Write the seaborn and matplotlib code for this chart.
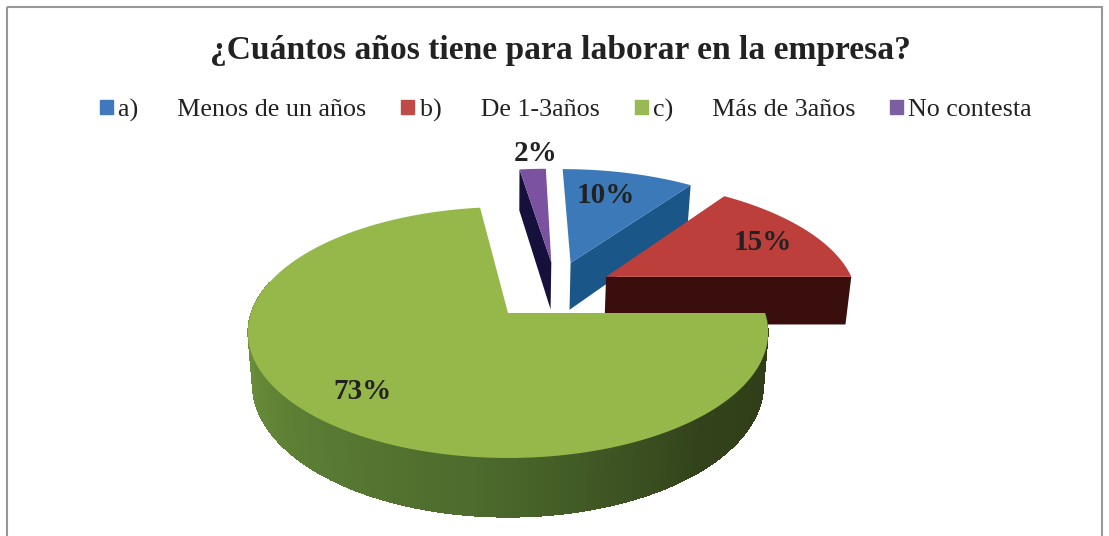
import numpy as np
import matplotlib
matplotlib.use("Agg")
import matplotlib.pyplot as plt
from matplotlib.patches import Patch, Rectangle
import seaborn as sns

sns.set_theme(style="white")
plt.rcParams["font.family"] = ["Liberation Serif", "DejaVu Serif"]

# Chart data
title = "¿Cuántos años tiene para laborar en la empresa?"
categories = ["a)      Menos de un años", "b)      De 1-3años", "c)      Más de 3años", "No contesta"]
percentages = [10, 15, 73, 2]

# Slice styling, same order as the categories
top_colors = ["#3c79b9", "#bd3f3c", "#96b84a", "#7a52a0"]
side_colors = ["#1b5688", "#3a0e0c", "#55722f", "#15103c"]
legend_colors = ["#4178bd", "#be4b48", "#98b954", "#7d5fa0"]
explode_u = [0.26, 0.40, 0.0, 0.18]
explode_v = [0.436, 0.31, 0.0, 0.44]
label_r = [0.72, 0.76, 0.78, 1.19]
label_turn = [3, -2, 0, -1.5]

# Perspective of the tilted disc, in pixels
CX, CY = 508, 313
RX, RY = 257, 122.5
PERSP = 0.155
DEPTH = 50
BOTTOM_SHRINK = 0.983


def project(u, v):
    """Disc coordinates to picture coordinates"""
    scale = 1 / (1 + PERSP * np.asarray(v, dtype=float))
    return CX + RX * np.asarray(u) * scale, CY - RY * np.asarray(v) * scale


def extrude(ax, u, v, color, **kwargs):
    """Wall between a top edge and the same edge on the lower plane"""
    x, y = project(u, v)
    bottom_x = CX + (x - CX) * BOTTOM_SHRINK
    bottom_y = y + DEPTH / (1 + PERSP * np.asarray(v, dtype=float))
    ax.fill(np.r_[x, bottom_x[::-1]], np.r_[y, bottom_y[::-1]], color=color, lw=0, **kwargs)


def radial_face(ax, a, normal, off_u, off_v, color):
    """Flat side along the edge at angle a, only if it faces the viewer"""
    if np.sin(np.radians(normal)) < -1e-6:
        u = np.array([off_u, off_u + np.cos(np.radians(a))])
        v = np.array([off_v, off_v + np.sin(np.radians(a))])
        extrude(ax, u, v, color)


def draw_slice(ax, i, a_start, a_end):
    off_u, off_v = explode_u[i], explode_v[i]
    angles = np.linspace(a_start, a_end, 200)
    u = off_u + np.cos(np.radians(angles))
    v = off_v + np.sin(np.radians(angles))

    # Sides facing the viewer
    if percentages[i] == max(percentages):
        # outer wall with shading from left to right
        shades = sns.blend_palette(["#7ba240", "#5f8236", "#4d6b2d", "#32421a", "#2f3c18"], 120)
        wall = np.linspace(-195, 0, 241)
        for a0, a1 in zip(wall[:-1], wall[1:]):
            seg = np.radians(np.linspace(a0, a1, 3))
            k = int(np.clip((a0 + 195) / 195 * 119, 0, 119))
            extrude(ax, np.cos(seg), np.sin(seg), shades[k], antialiased=False)
    else:
        radial_face(ax, a_end, a_end - 90, off_u, off_v, side_colors[i])
        radial_face(ax, a_start, a_start + 90, off_u, off_v, side_colors[i])

    # Top surface
    x, y = project(np.r_[off_u, u], np.r_[off_v, v])
    ax.fill(x, y, color=top_colors[i], lw=0)


fig = plt.figure(figsize=(11.09, 5.36), dpi=100)
ax = fig.add_axes([0, 0, 1, 1])
ax.set_xlim(0, 1109)
ax.set_ylim(536, 0)
ax.axis("off")

# Chart frame, runs off the bottom of the picture
ax.add_patch(Rectangle((7, 7), 1095, 600, fill=False, ec="#979797", lw=1.5))

# Slice angles, clockwise from twelve o'clock
shares = np.array(percentages) / sum(percentages) * 360
ends = 90 - np.cumsum(shares)
starts = ends + shares

# Back to front so the front slices overlap
for i in [3, 0, 1, 2]:
    draw_slice(ax, i, starts[i], ends[i])

# Percentage labels
for i in range(len(percentages)):
    mid = np.radians((starts[i] + ends[i]) / 2 + label_turn[i])
    lu = explode_u[i] + label_r[i] * np.cos(mid)
    lv = explode_v[i] + label_r[i] * np.sin(mid)
    lx, ly = project(lu, lv)
    ax.text(lx, ly, f"{percentages[i]}%", fontsize=21, fontweight="bold",
            color="#222222", ha="center", va="center")

ax.text(560, 51, title, fontsize=24.1, fontweight="bold", color="#222222",
        ha="center", va="center")

handles = [Patch(color=c) for c in legend_colors]
ax.legend(handles, categories, loc="center", bbox_to_anchor=(566 / 1109, 1 - 110 / 536),
          ncol=4, frameon=False, fontsize=18.7, handlelength=0.5, handleheight=0.5,
          handletextpad=0.2, columnspacing=1.35, labelcolor="#222222")

fig.savefig("out.png", dpi=100)
